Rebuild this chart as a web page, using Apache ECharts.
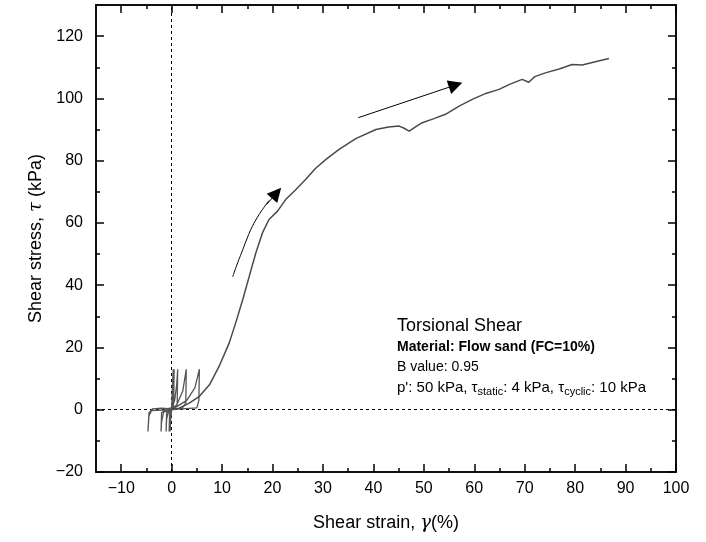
<!DOCTYPE html>
<html>
<head>
  <meta charset="utf-8">
  <title>Torsional shear - flow sand</title>
  <script src="https://cdn.jsdelivr.net/npm/echarts@6/dist/echarts.min.js"></script>
</head>
<body style="margin:0">
  <div id="main" style="width: 706px;height:542px;"></div>
  <script type="text/javascript">
    // cyclic loops near the origin: [shear strain %, shear stress kPa]
    var cyclicPath = [
      [0, 0], [0.1, 5], [0.3, 13], [0.2, 3], [0, 0], [-0.2, -3], [-0.3, -7], [-0.2, -2],
      [0, 0], [0.3, 6], [0.5, 13], [0.4, 2], [0.1, 0], [-0.3, -1], [-0.5, -7], [-0.4, -1],
      [0, 0.2], [0.6, 3], [1.0, 8], [1.2, 13], [1.1, 2], [0.6, 0.3], [-0.6, -0.5], [-1.0, -3], [-1.1, -7], [-1.0, -1],
      [-0.3, 0.2], [1.0, 1.5], [2.2, 6], [2.9, 13], [2.8, 2], [2.0, 0.4], [0, 0], [-1.6, -0.8], [-2.0, -4], [-2.1, -7], [-2.0, -1],
      [-1.0, 0.3], [1.0, 1], [3.0, 3], [4.6, 7], [5.5, 13], [5.4, 3], [5.0, 0.6], [2.0, 0.3], [-1.0, 0],
      [-4.0, -0.3], [-4.5, -2], [-4.7, -7], [-4.5, -1], [-3.8, 0.3], [-2.0, 0.5], [0, 0.3]
    ];
    // monotonic flow part after the loops
    var flowPath = [
      [0, 0.3], [1.5, 0.5], [3.5, 2.1], [5.5, 4.3], [7.5, 8], [9.4, 13.9], [11.4, 21.4], [12.7, 27.9],
      [14.1, 35.4], [15.4, 42.9], [16.7, 50.4], [18, 56.8], [19.3, 61.1], [21, 63.8], [22.6, 67.5],
      [24.5, 70.5], [26.6, 74], [28.5, 77.5], [30.6, 80.4], [33.2, 83.6], [36.5, 87.1], [40.5, 90],
      [43, 90.8], [45.1, 91.1], [46, 90.5], [47.1, 89.5], [48.5, 91], [49.7, 92.2], [52, 93.5],
      [54.3, 94.9], [57, 97.5], [59.6, 99.7], [62.3, 101.6], [64.9, 102.9], [67, 104.5], [69.5, 106.1],
      [70.8, 105.2], [72, 107], [74.1, 108.2], [77, 109.5], [79.4, 110.9], [81.4, 110.7], [84, 111.8], [86.7, 112.8]
    ];
    // arrows
    var arcArrow = [[12.1, 42.7], [13, 46.8], [14.1, 51.4], [15, 55.2], [16, 58.9], [17, 61.8], [18, 64.3], [19.3, 67.2]];
    var arcTip = [[18.8, 65.9], [20.8, 69.6]];
    var straightArrow = [[37.0, 93.8], [56.3, 104.3]];
    // ticks
    var xMajor = [-10, 0, 10, 20, 30, 40, 50, 60, 70, 80, 90, 100];
    var xMinor = [-5, 5, 15, 25, 35, 45, 55, 65, 75, 85, 95];
    var yMajor = [-20, 0, 20, 40, 60, 80, 100, 120];
    var yMinor = [-10, 10, 30, 50, 70, 90, 110];

    var FONT = 'Liberation Sans';
    var minus = function (v) { return v < 0 ? '\u2212' + (-v) : String(v); };

    function makeAxis(dim, pos, ticks, len, withLabel) {
      var ax = {
        type: 'value',
        position: pos,
        min: dim === 'x' ? -15 : -20,
        max: dim === 'x' ? 100 : 130,
        axisLine: { show: true, onZero: false, lineStyle: { color: '#000', width: 1.5 } },
        axisTick: { show: true, inside: true, length: len, customValues: ticks, lineStyle: { color: '#000', width: 1.5 } },
        axisLabel: { show: false },
        splitLine: { show: false }
      };
      if (withLabel) {
        ax.axisLabel = {
          show: true, customValues: ticks, formatter: minus,
          color: '#000', fontFamily: FONT, fontSize: 16, margin: dim === 'x' ? 9 : 13
        };
      }
      return ax;
    }

    var myChart = echarts.init(document.getElementById('main'));
    var xa = makeAxis('x', 'bottom', xMajor, 8, true);
    xa.name = 'Shear strain, {i|γ}(%)';
    xa.nameLocation = 'middle';
    xa.nameGap = 42;
    xa.nameTextStyle = { color: '#000', fontFamily: FONT, fontSize: 18, rich: { i: { fontStyle: 'italic', fontSize: 18, fontFamily: 'DejaVu Serif' } } };
    var ya = makeAxis('y', 'left', yMajor, 8, true);
    ya.name = 'Shear stress, {i|τ} (kPa)';
    ya.nameLocation = 'middle';
    ya.nameGap = 50;
    ya.nameTextStyle = { color: '#000', fontFamily: FONT, fontSize: 18, rich: { i: { fontStyle: 'italic', fontSize: 18, fontFamily: 'DejaVu Serif' } } };

    myChart.setOption({
      animation: false,
      backgroundColor: '#fff',
      grid: { left: 96, right: 30, top: 5, bottom: 70 },
      xAxis: [
        xa,
        makeAxis('x', 'bottom', xMinor, 4, false),
        makeAxis('x', 'top', xMajor, 8, false),
        makeAxis('x', 'top', xMinor, 4, false)
      ],
      yAxis: [
        ya,
        makeAxis('y', 'left', yMinor, 4, false),
        makeAxis('y', 'right', yMajor, 8, false),
        makeAxis('y', 'right', yMinor, 4, false)
      ],
      graphic: [
        { type: 'text', left: 397, top: 317, style: { text: 'Torsional Shear', font: '18px "Liberation Sans"', fill: '#000' } },
        { type: 'text', left: 397, top: 340, style: { text: 'Material: Flow sand (FC=10%)', font: 'bold 14px "Liberation Sans"', fill: '#000' } },
        { type: 'text', left: 397, top: 360, style: { text: 'B value: 0.95', font: '14px "Liberation Sans"', fill: '#000' } },
        {
          type: 'text', left: 397, top: 378,
          style: {
            text: "{n|p': 50 kPa, τ}{s|static}{n|: 4 kPa, τ}{s|cyclic}{n|: 10 kPa}",
            fill: '#000',
            rich: {
              n: { fontFamily: FONT, fontSize: 15, lineHeight: 19, fill: '#000' },
              s: { fontFamily: FONT, fontSize: 11, lineHeight: 11, padding: [8, 0, 0, 0], verticalAlign: 'top', fill: '#000' }
            }
          }
        }
      ],
      series: [
        {
          type: 'line', data: cyclicPath, symbol: 'none', z: 3,
          lineStyle: { color: '#555', width: 1.3 }
        },
        {
          type: 'line', data: flowPath, symbol: 'none', z: 3,
          lineStyle: { color: '#4a4a4a', width: 1.5 },
          markLine: {
            silent: true, symbol: 'none', label: { show: false }, z: 1,
            lineStyle: { color: '#000', width: 1, type: [3, 3] },
            data: [{ xAxis: 0 }, { yAxis: 0 }]
          }
        },
        {
          type: 'line', data: arcArrow, symbol: 'none', smooth: true,
          lineStyle: { color: '#000', width: 1 }
        },
        {
          type: 'lines', coordinateSystem: 'cartesian2d',
          symbol: ['none', 'triangle'], symbolSize: [8, 14],
          lineStyle: { color: '#000', width: 1, curveness: 0, opacity: 1 },
          data: [{ coords: arcTip }, { coords: straightArrow }]
        }
      ]
    });
  </script>
</body>
</html>
